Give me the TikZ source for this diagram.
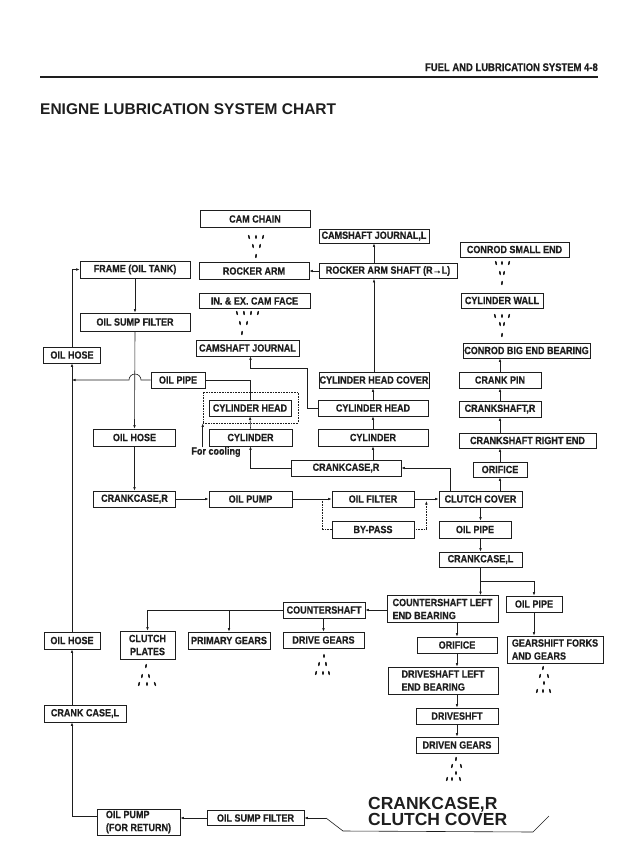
\documentclass[tikz,border=0pt]{standalone}
\usepackage{fontspec}
\setmainfont{Liberation Sans}
\newfontfamily\condb{Liberation Sans}[UprightFont={* Bold}, FakeStretch=0.86, FakeBold=0.5]
\newfontfamily\bigb{Liberation Sans}[UprightFont={* Bold}]
\usetikzlibrary{arrows.meta,calc}
\definecolor{ink}{HTML}{1E1E1E}
\begin{document}
\begin{tikzpicture}[x=1pt,y=-1pt,
  bx/.style={draw=ink, line width=0.75pt, fill=white, inner sep=0pt, text=ink,
    font=\condb\fontsize{10.5}{13}\selectfont, align=center},
  lbx/.style={bx, align=left},
  ln/.style={draw=ink, line width=0.6pt},
  arr/.style={ln, -{Latex[length=3.5pt,width=2.6pt]}},
  dotln/.style={ln, densely dotted},
  dotarr/.style={arr, densely dotted},
  drp/.style={fill=ink},
]
\useasboundingbox (0,0) rectangle (637,865);
\fill[white] (0,0) rectangle (637,865);

% header
\node[anchor=base east, inner sep=0pt, text=ink, font=\condb\fontsize{11}{12}\selectfont] (hdr) at (598,71) {FUEL AND LUBRICATION SYSTEM 4-8};
\draw[ink, line width=2pt] (40,76.5) -- (598,76.5);
\node[anchor=base west, inner sep=0pt, text=ink, font=\bigb\fontsize{15.5}{16}\selectfont] (title) at (40,114) {ENIGNE LUBRICATION SYSTEM CHART};

% boxes
\node[bx, minimum width=110pt, minimum height=17pt] (camchain) at (255,219) {CAM CHAIN};
\node[bx, minimum width=110pt, minimum height=17pt] (frame) at (135,269.5) {FRAME (OIL TANK)};
\node[bx, minimum width=110pt, minimum height=17pt] (rocker) at (254,271) {ROCKER ARM};
\node[bx, minimum width=111pt, minimum height=15pt] (camface) at (254.5,301) {IN. \& EX. CAM FACE};
\node[bx, minimum width=110pt, minimum height=18pt] (sump1) at (135,322) {OIL SUMP FILTER};
\node[bx, minimum width=103pt, minimum height=16pt] (camj) at (247.5,348) {CAMSHAFT JOURNAL};
\node[bx, minimum width=57pt, minimum height=16pt] (hose1) at (72,355) {OIL HOSE};
\node[bx, minimum width=54pt, minimum height=16pt] (pipe1) at (178,380) {OIL PIPE};
\node[bx, minimum width=110pt, minimum height=14pt] (camjl) at (374,236) {CAMSHAFT JOURNAL,L};
\node[bx, minimum width=138pt, minimum height=15pt] (ras) at (388,271) {ROCKER ARM SHAFT (R→L)};
\node[bx, minimum width=109pt, minimum height=15pt] (conrods) at (514.5,249.5) {CONROD SMALL END};
\node[bx, minimum width=82pt, minimum height=15pt] (cylwall) at (502,300.5) {CYLINDER WALL};
\node[bx, minimum width=127pt, minimum height=15pt] (conrodb) at (526.5,350.5) {CONROD BIG END BEARING};
\node[bx, minimum width=110pt, minimum height=16pt] (chcover) at (374,380) {CYLINDER HEAD COVER};
\node[bx, minimum width=82pt, minimum height=16pt] (crankpin) at (500,380) {CRANK PIN};
\node[bx, minimum width=110pt, minimum height=16pt] (chead2) at (373,408) {CYLINDER HEAD};
\node[bx, minimum width=82pt, minimum height=16pt] (cshaftr) at (500,409) {CRANKSHAFT,R};
\node[bx, minimum width=110pt, minimum height=17pt] (cyl2) at (373,437.5) {CYLINDER};
\node[bx, minimum width=137pt, minimum height=15pt] (csre) at (527.5,440.5) {CRANKSHAFT RIGHT END};
\node[bx, minimum width=110pt, minimum height=16pt] (ccr2) at (346,468) {CRANKCASE,R};
\node[bx, minimum width=54pt, minimum height=15pt] (orifice1) at (500,469.5) {ORIFICE};
\node[bx, minimum width=82pt, minimum height=16pt] (filter) at (373,499) {OIL FILTER};
\node[bx, minimum width=83pt, minimum height=16pt] (clutchc) at (480.5,499) {CLUTCH COVER};
\node[bx, minimum width=82pt, minimum height=17pt] (bypass) at (373,529.5) {BY-PASS};
\node[bx, minimum width=72pt, minimum height=17pt] (pipe2) at (475,529.5) {OIL PIPE};
\node[draw=ink, densely dotted, line width=0.6pt, minimum width=95pt, minimum height=31pt, inner sep=0pt] (cool) at (250.5,407.5) {};
\node[bx, minimum width=82pt, minimum height=16pt] (chead1) at (250,408) {CYLINDER HEAD};
\node[bx, minimum width=82pt, minimum height=17pt] (hose2) at (134.5,437.5) {OIL HOSE};
\node[bx, minimum width=83pt, minimum height=17pt] (cyl1) at (250.5,437.5) {CYLINDER};
\node[inner sep=0pt, text=ink, font=\condb\fontsize{10.5}{13}\selectfont] (coolt) at (216,452) {For cooling};
\node[bx, minimum width=82pt, minimum height=16pt] (ccr1) at (134.5,499) {CRANKCASE,R};
\node[bx, minimum width=83pt, minimum height=16pt] (pump) at (250.5,499) {OIL PUMP};
\node[bx, minimum width=83pt, minimum height=15pt] (ccl) at (480.5,559.5) {CRANKCASE,L};
\node[lbx, minimum width=111pt, minimum height=27pt] (csleb) at (442.5,609) {COUNTERSHAFT LEFT\\END BEARING};
\node[bx, minimum width=56pt, minimum height=16pt] (pipe3) at (534,604) {OIL PIPE};
\node[bx, minimum width=82pt, minimum height=16pt] (cshaft) at (324,610) {COUNTERSHAFT};
\node[bx, minimum width=55pt, minimum height=28pt] (clutchp) at (147.5,645) {CLUTCH\\PLATES};
\node[bx, minimum width=82pt, minimum height=17pt] (primary) at (229,640.5) {PRIMARY GEARS};
\node[bx, minimum width=81pt, minimum height=16pt] (drive) at (323.5,640) {DRIVE GEARS};
\node[bx, minimum width=56pt, minimum height=17pt] (hose3) at (72,640.5) {OIL HOSE};
\node[bx, minimum width=80pt, minimum height=16pt] (orifice2) at (457,645) {ORIFICE};
\node[lbx, minimum width=96pt, minimum height=27pt] (gearshift) at (555,649.5) {GEARSHIFT FORKS\\AND GEARS};
\node[lbx, minimum width=110pt, minimum height=27pt] (dsleb) at (443,680.5) {DRIVESHAFT LEFT\\END BEARING};
\node[bx, minimum width=82pt, minimum height=16pt] (driveshft) at (457,716) {DRIVESHFT};
\node[bx, minimum width=82pt, minimum height=16pt] (driven) at (457,745) {DRIVEN GEARS};
\node[bx, minimum width=82pt, minimum height=17pt] (cl) at (85,713.5) {CRANK CASE,L};
\node[lbx, minimum width=83pt, minimum height=26pt] (pumpret) at (138.5,822) {OIL PUMP\\(FOR RETURN)};
\node[bx, minimum width=97pt, minimum height=15pt] (sump2) at (255.5,818) {OIL SUMP FILTER};

% big label and trough
\node[anchor=north west, inner sep=0pt, align=left, text=ink, font=\bigb\fontsize{17.5}{16.5}\selectfont] (big) at (368,797) {CRANKCASE,R\\CLUTCH COVER};
\coordinate (t1) at (326,818);
\coordinate (t2) at (343,831);
\coordinate (t3) at (533,832);
\coordinate (t4) at (549,816);
\draw[ln] (t1) -- (t2) -- (t3) -- (t4);

% connectors: left return column
\draw[arr] (t1) -- (sump2.east);
\draw[arr] (sump2.west) -- (pumpret.east |- sump2.west);
\draw[arr] ($(pumpret.west)+(0,-6)$) -| (hose3 |- cl.south);
\draw[arr] (hose3 |- cl.north) -- (hose3.south);
\draw[arr] (hose3.north) -- (hose1.south);
\draw[arr] (hose1.north) |- (frame.west);
\draw[arr] (pipe1.west) -- ($(sump1.south |- pipe1.west)+(6,0)$) arc[start angle=0,end angle=180,radius=6pt] -- (hose1 |- pipe1.west);

% main feed
\draw[arr] (frame.south) -- (sump1.north);
\draw[arr] (sump1.south) -- (hose2.north);
\draw[arr] (hose2.south) -- (ccr1.north);
\draw[arr] (ccr1.east) -- (pump.west);
\draw[arr] (pump.east) -- (filter.west);
\draw[arr] (filter.east) -- (clutchc.west);
\draw[dotln] ($(pump.east)+(29.5,0)$) |- (bypass.west);
\draw[dotarr] (bypass.east) -| ($(filter.east)+(12,2)$);

% clutch cover to crankcase R and cylinders
\draw[arr] ($(clutchc.north)+(-30,0)$) |- (ccr2.east);
\draw[arr] (ccr2.north -| cyl2) -- (cyl2.south);
\draw[arr] (ccr2.west) -| (cyl1.south);
\draw[arr] (cyl1.north) -- (chead1.south);
\draw[ln] (chead1.north) |- (pipe1.east);
\draw[arr] (cyl2.north) -- (chead2.south);
\draw[arr] (chead2.north) -- (chcover.south -| chead2);
\draw[arr] (chcover.north) -- (chcover.north |- ras.south);
\draw[arr] (chcover.north |- ras.north) -- (camjl.south);
\draw[arr] (ras.west) -- (rocker.east);
\draw[arr] (chead2.west) -- ++(-10,0) |- ($(camj.south)+(3,12)$) -- ($(camj.south)+(3,0)$);
\coordinate (coolfrom) at ($(cool.south west)+(0,24)$);
\draw[arr] (coolfrom) -- (cool.south west);

% crank side
\draw[arr] (clutchc.north -| orifice1) -- (orifice1.south);
\draw[arr] (orifice1.north) -- (csre.south -| orifice1);
\draw[arr] (csre.north -| cshaftr) -- (cshaftr.south);
\draw[arr] (cshaftr.north) -- (crankpin.south);
\draw[arr] (crankpin.north) -- (conrodb.south -| crankpin);

% lower chain
\draw[arr] (clutchc.south) -- (clutchc.south |- pipe2.north);
\draw[arr] (clutchc.south |- pipe2.south) -- (ccl.north);
\draw[arr] (ccl.south) -- (ccl.south |- csleb.north);
\draw[arr] ($(ccl.south)!0.5!(ccl.south |- csleb.north)$) -| (pipe3.north);
\draw[arr] (pipe3.south) -- (pipe3.south |- gearshift.north);
\draw[arr] (csleb.west |- cshaft.east) -- (cshaft.east);
\draw[arr] (cshaft.west) -| (clutchp.north);
\draw[arr] (primary |- cshaft.west) -- (primary.north);
\draw[arr] (cshaft.south -| drive) -- (drive.north);
\draw[arr] (csleb.south -| orifice2) -- (orifice2.north);
\draw[arr] (orifice2.south) -- (orifice2.south |- dsleb.north);
\draw[arr] (orifice2.south |- dsleb.south) -- (driveshft.north);
\draw[arr] (driveshft.south) -- (driven.north);

% oil drops
\foreach \x/\y/\a in {249/237/15, 256/237/0, 263/237/-15, 253/246/10, 260/246/-10, 256/256/-5,
  237/313/15, 244/313/5, 251/313/-5, 258/313/-15, 240/323/10, 247/323/-10, 242/333/-5,
  496/263/15, 502/263/0, 509/263/-15, 500/273/10, 504/273/-10, 502/283/-5,
  495/316/15, 502/316/0, 509/316/-15, 500/324/10, 504/324/-10, 502/335/-5,
  146/666/-10, 142/676/-10, 149/676/10, 139/684/-15, 147/684/0, 155/684/20,
  324/656/0, 319/664/-10, 326/664/5, 316/673/-15, 323/673/0, 329/673/10,
  543/668/-10, 540/676/-15, 548/676/15, 544/683/0, 537/691/-15, 543/691/0, 550/691/15,
  456/759/-5, 452/766/-15, 461/766/15, 456/773/0, 447/779/-15, 452/779/0, 460/779/15}
  \fill[drp, rotate around={\a:(\x,\y)}] (\x,\y) ellipse [x radius=0.9pt, y radius=2.2pt];
\end{tikzpicture}
\end{document}
